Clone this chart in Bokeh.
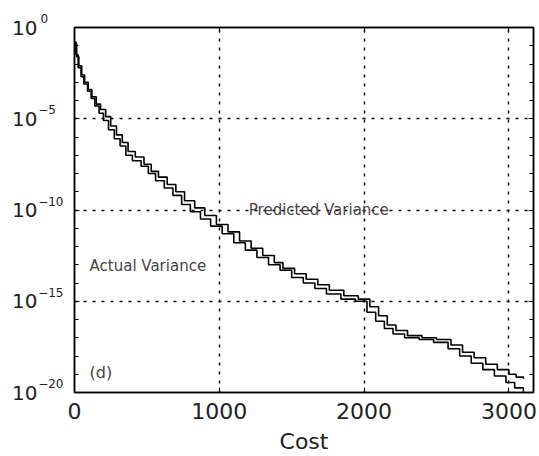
from bokeh.plotting import figure
from bokeh.models import (Range1d, FixedTicker, LinearAxis, LogAxis, Label, CustomJSTickFormatter)
from bokeh.embed import file_html
from bokeh.resources import INLINE

# ---- data ----
pred_cost = [0, 15, 30, 50, 70, 95, 120, 150, 180, 215, 250, 290, 330, 370, 420, 480, 530, 580,
             640, 700, 760, 830, 900, 980, 1060, 1140, 1220, 1300, 1380, 1440, 1520, 1600, 1680,
             1760, 1860, 1960, 2040, 2100, 2160, 2220, 2300, 2400, 2500, 2600, 2680, 2760, 2840,
             2920, 3000, 3050, 3100]
pred_var = [1.3e-1, 2.5e-2, 8e-3, 2.5e-3, 1e-3, 4e-4, 1.6e-4, 6.3e-5, 3.2e-5, 1.3e-5, 4e-6,
            1.3e-6, 5e-7, 1.6e-7, 8e-8, 3.2e-8, 1.3e-8, 6.3e-9, 2.5e-9, 1e-9, 3.2e-10, 1.3e-10,
            5e-11, 1.6e-11, 6.3e-12, 2e-12, 8e-13, 3.2e-13, 1.3e-13, 6.3e-14, 3.2e-14, 1.6e-14,
            8e-15, 4e-15, 2e-15, 1.3e-15, 5e-16, 1.6e-16, 5e-17, 2.5e-17, 1.3e-17, 1e-17, 8e-18,
            4e-18, 1.6e-18, 8e-19, 3.5e-19, 1.8e-19, 1e-19, 7e-20, 5.6e-20]
act_cost = [0, 10, 25, 45, 65, 90, 115, 140, 170, 200, 235, 275, 315, 355, 400, 460, 510, 560,
            620, 680, 740, 800, 870, 940, 1020, 1100, 1180, 1260, 1340, 1420, 1500, 1580, 1660,
            1740, 1840, 1940, 2020, 2080, 2140, 2200, 2280, 2380, 2480, 2580, 2660, 2740, 2820,
            2900, 2980, 3040, 3100]
act_var = [1.6e-1, 3.2e-2, 6.3e-3, 2e-3, 8e-4, 3.2e-4, 1.3e-4, 5e-5, 2e-5, 8e-6, 2.5e-6, 8e-7,
           3.2e-7, 1e-7, 5e-8, 2.5e-8, 1e-8, 4e-9, 1.6e-9, 6.3e-10, 2e-10, 8e-11, 3.2e-11, 1.3e-11,
           5e-12, 1.6e-12, 6.3e-13, 2.5e-13, 1e-13, 5e-14, 2e-14, 1e-14, 5e-15, 2.5e-15, 1.3e-15,
           1e-15, 2.5e-16, 8e-17, 3.2e-17, 1.6e-17, 1e-17, 8e-18, 5.6e-18, 2.5e-18, 1e-18, 4e-19,
           1.8e-19, 8e-20, 3.5e-20, 1.8e-20, 1.1e-20]

x_ticks = [0, 1000, 2000, 3000]
y_ticks = [1e-20, 1e-15, 1e-10, 1e-5, 1e0]
y_minor = [10.0 ** (-k) for k in range(0, 21)]

FONT = "DejaVu Sans"
TXT = "#222222"

p = figure(width=539, height=456, y_axis_type="log",
           x_range=Range1d(0, 3170), y_range=Range1d(1e-20, 1),
           output_backend="svg", toolbar_location=None,
           min_border_left=74, min_border_right=6, min_border_top=27, min_border_bottom=64)
p.background_fill_color = "white"
p.border_fill_color = "white"
p.outline_line_color = "black"
p.outline_line_width = 1.5

xt = FixedTicker(ticks=x_ticks)
yt = FixedTicker(ticks=y_ticks, minor_ticks=y_minor)

# grid
for g in (p.xgrid, p.ygrid):
    g.grid_line_color = "black"
    g.grid_line_width = 1.4
    g.grid_line_dash = "3 6"
p.xgrid.ticker = xt
p.ygrid.ticker = yt

# bottom axis
xa = p.xaxis[0]
xa.ticker = xt
xa.axis_label = "Cost"
xa.axis_label_text_font = FONT
xa.axis_label_text_font_size = "22px"
xa.axis_label_text_font_style = "normal"
xa.axis_label_text_color = TXT
xa.axis_label_text_line_height = 0.8
xa.axis_label_standoff = 7
xa.major_label_text_font = FONT
xa.major_label_text_font_size = "22px"
xa.major_label_text_color = TXT
xa.major_label_text_line_height = 0.8
xa.major_label_standoff = 10
xa.major_tick_in = 5
xa.major_tick_out = 0
xa.minor_tick_line_color = None
xa.axis_line_width = 1.5

# left axis (next to the frame): exponents of the decade labels, raised one half line
ya = p.yaxis[0]
ya.ticker = yt
ya.formatter = CustomJSTickFormatter(code="""
const e = Math.round(Math.log10(tick));
let s = e < 0 ? '\u2212' + (-e) : String(e);
while (s.length < 3) s = s + '\u2007';
return s + '\\n\u2007';""")
ya.major_label_text_font = FONT
ya.major_label_text_font_size = "12px"
ya.major_label_text_color = TXT
ya.major_label_standoff = 11
ya.major_tick_in = 5
ya.major_tick_out = 0
ya.minor_tick_in = 4
ya.minor_tick_out = 0
ya.axis_line_width = 1.5

# outer left axis: the base "10" of each decade label
ya10 = LogAxis(ticker=yt, formatter=CustomJSTickFormatter(code="return '10'"),
               major_label_text_font=FONT, major_label_text_font_size="20px",
               major_label_text_color=TXT, major_label_standoff=-8,
               axis_line_color=None, major_tick_line_color=None, minor_tick_line_color=None)
p.add_layout(ya10, "left")

# top and right frame axes with ticks only
top = LinearAxis(ticker=xt, formatter=CustomJSTickFormatter(code="return ''"),
                 major_tick_in=5, major_tick_out=0, minor_tick_line_color=None,
                 major_label_standoff=0, axis_line_width=1.5)
p.add_layout(top, "above")
right = LogAxis(ticker=yt, formatter=CustomJSTickFormatter(code="return ''"),
                major_tick_in=5, major_tick_out=0, minor_tick_in=4, minor_tick_out=0,
                major_label_standoff=0, axis_line_width=1.5)
p.add_layout(right, "right")

# curves
p.step(pred_cost, pred_var, mode="after", line_color="black", line_width=1.6)
p.step(act_cost, act_var, mode="after", line_color="black", line_width=1.6)

# annotations
for txt, xx, yy, fs in [("Predicted Variance", 1204, 1e-10, "15px"),
                        ("Actual Variance", 104, 9e-14, "15px"),
                        ("(d)", 104, 1.3e-19, "16px")]:
    p.add_layout(Label(x=xx, y=yy, text=txt, text_font=FONT, text_font_size=fs,
                       text_color="#444444", text_align="left", text_baseline="middle"))

open("out.html", "w").write(file_html(p, INLINE))
